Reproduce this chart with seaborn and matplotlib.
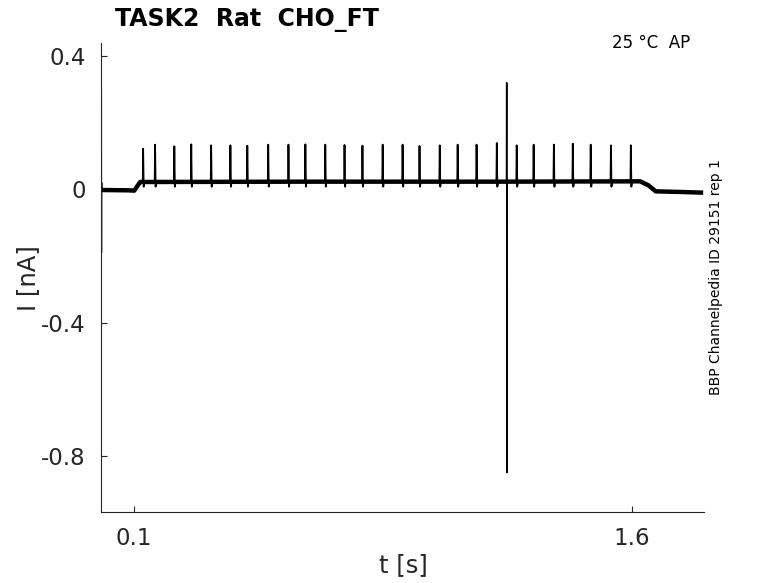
import numpy as np
import pandas as pd
import matplotlib
matplotlib.use("Agg")
import matplotlib.pyplot as plt
import seaborn as sns

# ---------------- data ----------------
title_text = "TASK2  Rat  CHO_FT"
temp_text = "25 °C  AP"
side_text = "BBP Channelpedia ID 29151 rep 1"
x_label = "t [s]"
y_label = "I [nA]"

xtick_values = [0.1, 1.6]
xtick_labels = ["0.1", "1.6"]
ytick_values = [-0.8, -0.4, 0.0, 0.4]
ytick_labels = ["-0.8", "-0.4", "0", "0.4"]

# slow baseline (holding current, step up and back down)
base_t = [0.001, 0.085, 0.100, 0.118, 0.60, 1.20, 1.625, 1.650, 1.672, 1.75, 1.815]
base_i = [-0.002, -0.003, -0.004, 0.022, 0.023, 0.023, 0.024, 0.012, -0.006, -0.008, -0.010]

# action-current spikes: times [s] and peak currents [nA]
spike_t = [0.127, 0.163, 0.221, 0.272, 0.332, 0.390, 0.441, 0.504, 0.565,
           0.616, 0.676, 0.734, 0.788, 0.849, 0.909, 0.960, 1.021, 1.075,
           1.132, 1.193, 1.253, 1.304, 1.365, 1.422, 1.476, 1.537, 1.597]
spike_peak = [0.122, 0.134, 0.129, 0.135, 0.132, 0.132, 0.131, 0.134, 0.134,
              0.135, 0.134, 0.133, 0.131, 0.134, 0.134, 0.130, 0.132, 0.134,
              0.134, 0.139, 0.132, 0.134, 0.134, 0.137, 0.134, 0.132, 0.132]
spike_dip = [0.008] * len(spike_t)
spike_base = 0.022

# fast artefacts: onset transient and the large one near 1.22 s
artefact_t = [[0.0008, 0.0012, 0.0016, 0.0022], [1.2224, 1.2228, 1.2232, 1.2238]]
artefact_i = [[0.30, -0.19, 0.02, -0.002], [0.022, 0.32, -0.85, 0.022]]

xlim = (0.0, 1.8175)
ylim = (-0.968, 0.439)

# ---------------- build tables ----------------
df_base = pd.DataFrame({"t": base_t, "I": base_i})

rows = []
for k, (t0, pk, dp) in enumerate(zip(spike_t, spike_peak, spike_dip)):
    for dt, val in zip([-0.0012, 0.0, 0.0016, 0.0032], [spike_base, pk, dp, spike_base]):
        rows.append({"t": t0 + dt, "I": val, "unit": k})
df_spk = pd.DataFrame(rows)

rows = []
for k, (ts, vs) in enumerate(zip(artefact_t, artefact_i)):
    for t0, v in zip(ts, vs):
        rows.append({"t": t0, "I": v, "unit": k})
df_art = pd.DataFrame(rows)

# ---------------- plot ----------------
sns.set_style("white")
plt.rcParams["font.family"] = ["DejaVu Sans"]

fig = plt.figure(figsize=(7.78, 5.83), dpi=100)
ax = fig.add_axes([101 / 778, 1 - 512 / 583, 603 / 778, 469 / 583])

sns.lineplot(data=df_base, x="t", y="I", ax=ax, color="black", lw=3.2,
             estimator=None, sort=False, solid_capstyle="butt")
sns.lineplot(data=df_spk, x="t", y="I", units="unit", ax=ax, color="black",
             lw=1.3, estimator=None, sort=False)
sns.lineplot(data=df_art, x="t", y="I", units="unit", ax=ax, color="black",
             lw=1.1, estimator=None, sort=False)

ax.set_xlim(*xlim)
ax.set_ylim(*ylim)
ax.set_xticks(xtick_values)
ax.set_xticklabels(xtick_labels)
ax.set_yticks(ytick_values)
ax.set_yticklabels(ytick_labels)

for side in ["top", "right"]:
    ax.spines[side].set_visible(False)
for side in ["left", "bottom"]:
    ax.spines[side].set_color("#262626")
    ax.spines[side].set_linewidth(0.8)

ax.tick_params(axis="both", direction="in", length=4.5, width=0.8,
               bottom=True, left=True,
               color="#262626", labelcolor="#262626", labelsize=16.5, pad=11)

ax.set_xlabel(x_label, fontsize=17.5, color="#262626")
ax.set_ylabel(y_label, fontsize=17.5, color="#262626")
ax.xaxis.set_label_coords((403 - 101) / 603, (512 - 553) / 469)
ax.yaxis.set_label_coords((40 - 101) / 603, (512 - 278) / 469)

fig.text(115 / 778, 1 - 26 / 583, title_text, fontsize=17, fontweight="bold",
         ha="left", va="baseline", color="black")
fig.text(690 / 778, 1 - 48 / 583, temp_text, fontsize=12, ha="right",
         va="baseline", color="black")
fig.text(716 / 778, 1 - 277 / 583, side_text, fontsize=10, rotation=90,
         ha="center", va="center", color="black")

fig.savefig("out.png", dpi=100)
